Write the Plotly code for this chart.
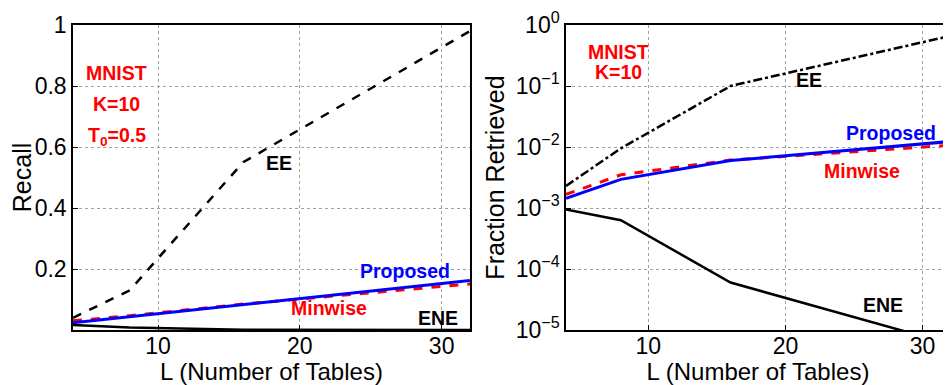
import plotly.graph_objects as go
from plotly.subplots import make_subplots

# ---- data ----
L = [4, 8, 16, 32]

recall_ee = [0.04, 0.13, 0.55, 0.98]
recall_proposed = [0.024, 0.044, 0.083, 0.162]
recall_minwise = [0.030, 0.047, 0.085, 0.151]
recall_ene = [0.016, 0.008, 0.001, 0.0002]

frac_ee = [2.3e-3, 9.5e-3, 0.1, 0.66]
frac_proposed = [1.44e-3, 2.95e-3, 6.0e-3, 1.23e-2]
frac_minwise = [1.67e-3, 3.5e-3, 6.1e-3, 1.07e-2]
frac_ene = [9.5e-4, 6.3e-4, 6.0e-5, 5.9e-6]

recall_ticks = [0.2, 0.4, 0.6, 0.8, 1]
recall_ticktext = ["0.2", "0.4", "0.6", "0.8", "1"]
frac_ticks = [1e-5, 1e-4, 1e-3, 1e-2, 1e-1, 1]
frac_ticktext = ["10<sup>−5</sup>", "10<sup>−4</sup>", "10<sup>−3</sup>",
                 "10<sup>−2</sup>", "10<sup>−1</sup>", "10<sup>0</sup>"]
x_ticks = [10, 20, 30]

FONT = "Liberation Sans, Arial, sans-serif"
RED = "#ff0000"
BLUE = "#0000ff"

# page body has an 8px margin: figure occupies 943x377 starting at (8, 8)
OFF = 8
W, H = 951 - OFF, 385 - OFF

def px_x(p):
    return (p - OFF) / W

def px_y(p):
    return 1 - (p - OFF) / H

fig = make_subplots(rows=1, cols=2)

# left panel
fig.add_trace(go.Scatter(x=L, y=recall_ene, mode="lines",
                         line=dict(color="black", width=2.5)), 1, 1)
fig.add_trace(go.Scatter(x=L, y=recall_ee, mode="lines",
                         line=dict(color="black", width=2.5, dash="dash")), 1, 1)
fig.add_trace(go.Scatter(x=L, y=recall_minwise, mode="lines",
                         line=dict(color=RED, width=3, dash="dash")), 1, 1)
fig.add_trace(go.Scatter(x=L, y=recall_proposed, mode="lines",
                         line=dict(color=BLUE, width=3)), 1, 1)

# right panel
fig.add_trace(go.Scatter(x=L, y=frac_ene, mode="lines",
                         line=dict(color="black", width=2.5)), 1, 2)
fig.add_trace(go.Scatter(x=L, y=frac_ee, mode="lines",
                         line=dict(color="black", width=2.5, dash="dashdot")), 1, 2)
fig.add_trace(go.Scatter(x=L, y=frac_minwise, mode="lines",
                         line=dict(color=RED, width=3, dash="dash")), 1, 2)
fig.add_trace(go.Scatter(x=L, y=frac_proposed, mode="lines",
                         line=dict(color=BLUE, width=3)), 1, 2)

axis_common = dict(showline=True, linecolor="black", linewidth=1.5, mirror=True,
                   ticks="inside", ticklen=5, tickcolor="black", automargin=False,
                   showgrid=True, gridcolor="#a0a0a0", griddash="dot", gridwidth=1,
                   zeroline=False, tickfont=dict(family=FONT, size=23, color="black"))

fig.update_xaxes(**axis_common, range=[4, 32], tickvals=x_ticks, ticklabelstandoff=-5,
                 title=dict(text="L (Number of Tables)",
                            font=dict(family=FONT, size=24, color="black"), standoff=0))
fig.update_yaxes(**axis_common, row=1, col=1, range=[0, 1], tickvals=recall_ticks,
                 ticktext=recall_ticktext,
                 title=dict(text="Recall", font=dict(family=FONT, size=25, color="black"),
                            standoff=11))
fig.update_yaxes(**axis_common, row=1, col=2, type="log", range=[-5, 0],
                 tickvals=frac_ticks, ticktext=frac_ticktext,
                 title=dict(text="Fraction Retrieved",
                            font=dict(family=FONT, size=25, color="black"), standoff=4))

fig.update_layout(
    width=W, height=H, showlegend=False,
    paper_bgcolor="white", plot_bgcolor="white",
    margin=dict(l=0, r=0, t=0, b=0),
    xaxis=dict(domain=[px_x(73), px_x(470)]),
    xaxis2=dict(domain=[px_x(566), px_x(950)]),
    yaxis=dict(domain=[px_y(330), px_y(25)]),
    yaxis2=dict(domain=[px_y(330), px_y(25)]),
)

def label(text, x, y, color, xref, yref, size=19.5, height=None):
    fig.add_annotation(text="<b>" + text + "</b>", x=x, y=y, xref=xref, yref=yref,
                       showarrow=False, height=height,
                       font=dict(family=FONT, size=size, color=color))

# left annotations
label("MNIST", 7.1, 0.843, RED, "x", "y")
label("K=10", 7.1, 0.74, RED, "x", "y")
label("T<sub>0</sub>=0.5", 7.1, 0.635, RED, "x", "y")
label("EE", 18.5, 0.547, "black", "x", "y")
label("Proposed", 27.4, 0.193, BLUE, "x", "y")
label("Minwise", 22.05, 0.072, RED, "x", "y")
label("ENE", 29.74, 0.039, "black", "x", "y")

# right annotations (log axis: y in log10 units)
label("MNIST", 7.8, -0.437, RED, "x2", "y2", height=16)
label("K=10", 7.8, -0.765, RED, "x2", "y2", height=16)
label("EE", 21.7, -0.9, "black", "x2", "y2")
label("Proposed", 27.7, -1.776, BLUE, "x2", "y2")
label("Minwise", 25.6, -2.39, RED, "x2", "y2")
label("ENE", 27.1, -4.59, "black", "x2", "y2")

fig.write_html("out.html")
